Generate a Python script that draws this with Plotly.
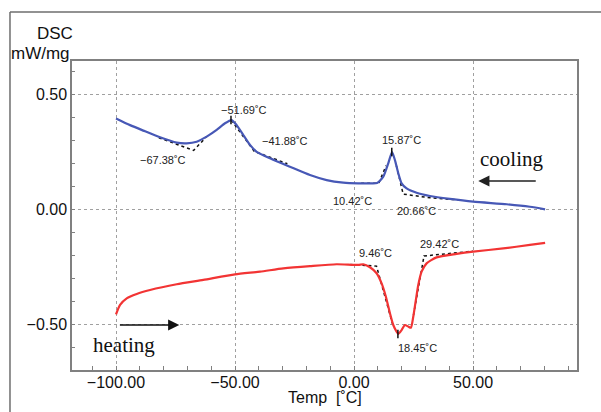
import plotly.graph_objects as go

# ---------------- data ----------------
cool_T = [-100, -94.1, -88.5, -81.5, -74.5, -70.3, -66.1, -61.9, -57.7, -54.2, -51.4,
          -49.3, -46.5, -43.7, -40.9, -35.3, -26.9, -18.5, -11.5, -4.5, 1.8, 6.0, 9.7,
          12.3, 14.4, 16.0, 17.2, 18.6, 20.0, 22.1, 26.3, 31.9, 40.3, 50.1, 64.2, 73.9, 80.3]
cool_V = [0.395, 0.366, 0.342, 0.313, 0.290, 0.287, 0.294, 0.316, 0.345, 0.374, 0.388,
          0.366, 0.323, 0.280, 0.250, 0.222, 0.185, 0.149, 0.127, 0.116, 0.113, 0.113, 0.114,
          0.142, 0.200, 0.249, 0.214, 0.157, 0.113, 0.091, 0.072, 0.058, 0.045, 0.033, 0.022, 0.011, 0.000]

heat_T = [-100, -98.3, -95.5, -91.3, -85.7, -74.5, -63.3, -50.0, -39.5, -29.7, -18.5, -7.3,
          1.8, 3.9, 6.7, 9.5, 11.6, 13.4, 15.1, 16.5, 17.9, 18.6, 20.0, 21.4, 22.8, 23.9,
          24.9, 26.0, 27.0, 28.4, 30.5, 34.7, 43.1, 50.1, 62.7, 73.9, 80.3]
heat_V = [-0.457, -0.416, -0.387, -0.368, -0.351, -0.326, -0.307, -0.283, -0.271, -0.257, -0.247, -0.239,
          -0.242, -0.239, -0.252, -0.278, -0.322, -0.380, -0.452, -0.503, -0.532, -0.542, -0.525, -0.503, -0.510, -0.515,
          -0.467, -0.394, -0.329, -0.271, -0.235, -0.209, -0.194, -0.184, -0.170, -0.155, -0.146]

# onset/endset tangent construction lines (dashed)
tangent_T = [[-82, -67.4, -62], [-51.6, -41.9, -28], [3, 10.4, 13.5], [17.8, 20.66, 32, 45],
             [-1.5, 9.46, 16.5], [25.0, 29.42, 50]]
tangent_V = [[0.311, 0.256, 0.315], [0.388, 0.252, 0.198], [0.113, 0.113, 0.19], [0.19, 0.066, 0.05, 0.04],
             [-0.24, -0.247, -0.51], [-0.46, -0.203, -0.182]]

peak_T = [-51.69, 15.87, 18.45]
peak_V = [0.388, 0.249, -0.542]

label_texts = ["−67.38˚C", "−51.69˚C", "−41.88˚C", "15.87˚C", "10.42˚C", "20.66˚C",
               "9.46˚C", "29.42˚C", "18.45˚C"]
label_T = [-80.3, -46.4, -29.0, 20.0, -0.7, 26.3, 9.2, 36.1, 26.7]
label_V = [0.214, 0.432, 0.297, 0.303, 0.036, -0.007, -0.192, -0.149, -0.601]

x_tickvals = [-100, -50, 0, 50]
x_ticktext = ["−100.00", "−50.00", "0.00", "50.00"]
y_tickvals = [-0.5, 0, 0.5]
y_ticktext = ["−0.50", "0.00", "0.50"]

# ---------------- figure ----------------
fig = go.Figure()

for tt, vv in zip(tangent_T, tangent_V):
    fig.add_trace(go.Scatter(x=tt, y=vv, mode="lines",
                             line=dict(color="#111111", width=1.5, dash="3px,3px"),
                             hoverinfo="skip", showlegend=False))

fig.add_trace(go.Scatter(x=cool_T, y=cool_V, mode="lines", line=dict(color="#4758b6", width=2.2, shape="spline", smoothing=0.6),
                         name="cooling", showlegend=False))
fig.add_trace(go.Scatter(x=heat_T, y=heat_V, mode="lines", line=dict(color="#f23434", width=2.2, shape="spline", smoothing=0.6),
                         name="heating", showlegend=False))
fig.add_trace(go.Scatter(x=peak_T, y=peak_V, mode="markers",
                         marker=dict(symbol="line-ns", size=6, line=dict(color="#111111", width=1.5)),
                         hoverinfo="skip", showlegend=False))

annotations = []
for t, x, y in zip(label_texts, label_T, label_V):
    annotations.append(dict(x=x, y=y, text=t, showarrow=False, xref="x", yref="y",
                            font=dict(family="Liberation Sans", size=11, color="#222222")))

# direction labels and arrows
annotations += [
    dict(x=66.0, y=0.220, text="cooling", showarrow=False, xref="x", yref="y",
         font=dict(family="Liberation Serif", size=21, color="#111111")),
    dict(x=-96.6, y=-0.59, text="heating", showarrow=False, xref="x", yref="y",
         font=dict(family="Liberation Serif", size=21, color="#111111")),
    dict(x=52.2, y=0.123, ax=77.0, ay=0.123, xref="x", yref="y", axref="x", ayref="y",
         text="", showarrow=True, arrowhead=2, arrowsize=1.4, arrowwidth=1.6, arrowcolor="#222222", standoff=0),
    dict(x=-73.4, y=-0.503, ax=-99.0, ay=-0.503, xref="x", yref="y", axref="x", ayref="y",
         text="", showarrow=True, arrowhead=2, arrowsize=1.4, arrowwidth=1.6, arrowcolor="#111111", standoff=0),
    dict(x=0.006, y=1.089, xref="paper", yref="paper", xanchor="right", yanchor="middle",
         text="DSC", showarrow=False, font=dict(family="Liberation Sans", size=17, color="#111111")),
    dict(x=0.0, y=1.0227, xref="paper", yref="paper", xanchor="right", yanchor="middle",
         text="mW/mg", showarrow=False, font=dict(family="Liberation Sans", size=17, color="#111111")),
    dict(x=0.5, y=-0.0906, xref="paper", yref="paper", xanchor="center", yanchor="middle",
         text="Temp\u00a0\u00a0[˚C]", showarrow=False, font=dict(family="Liberation Sans", size=16, color="#111111")),
]

axis_common = dict(showgrid=True, gridcolor="#a0a0a0", gridwidth=1, griddash="dot",
                   showline=True, linecolor="#808080", linewidth=1.5, mirror=True,
                   zeroline=False, ticks="",
                   tickfont=dict(family="Liberation Sans", size=16, color="#111111"))

fig.update_layout(
    width=601, height=412,
    margin=dict(l=72, r=24, t=61, b=42),
    paper_bgcolor="white", plot_bgcolor="white",
    annotations=annotations,
    xaxis=dict(range=[-118.49, 93.70], tickmode="array", tickvals=x_tickvals, ticktext=x_ticktext,
               ticklabelstandoff=-3,
               minor=dict(tickmode="linear", tick0=0, dtick=10, ticks="inside", ticklen=4,
                          tickcolor="#808080", showgrid=False),
               **axis_common),
    yaxis=dict(range=[-0.6987, 0.6448], tickmode="array", tickvals=y_tickvals, ticktext=y_ticktext,
               minor=dict(tickmode="linear", tick0=0, dtick=0.1, ticks="inside", ticklen=3,
                          tickcolor="#808080", showgrid=False),
               **axis_common),
    shapes=[
        dict(type="line", xref="paper", yref="paper", x0=-0.1228, x1=-0.1228, y0=-0.5, y1=1.1586,
             line=dict(color="#6e6e6e", width=1.5)),
        dict(type="line", xref="paper", yref="paper", x0=-0.1228, x1=1.2, y0=1.1586, y1=1.1586,
             line=dict(color="#6e6e6e", width=1.5)),
    ],
)

fig.write_html("out.html", config={"displayModeBar": False},
               post_script="document.body.style.margin='0';document.body.style.overflow='hidden';")
